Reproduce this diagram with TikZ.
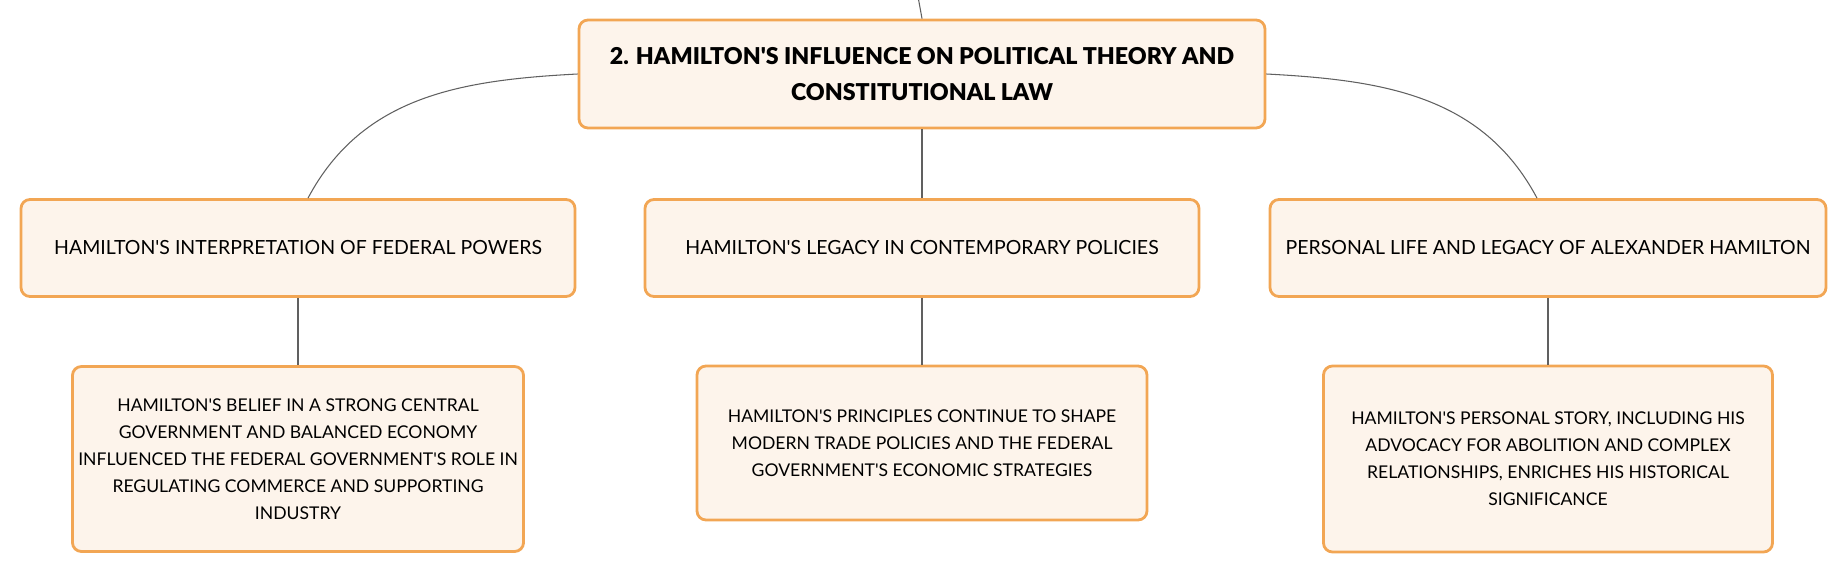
\documentclass[tikz,border=0pt]{standalone}
\usepackage{fontspec}
\setmainfont{Lato}[Ligatures=TeXOff,BoldFont={Lato Black}]
\usetikzlibrary{positioning}

\tikzstyle{block} = [draw, rectangle, rounded corners=0.18cm, line width=1.6pt, align=center]
\tikzstyle{link} = [draw, line width=0.6pt]

\begin{document}
\begin{tikzpicture} [auto, node distance=2cm]

\definecolor{edgeO}{HTML}{F2A654}
\definecolor{fillO}{HTML}{FDF4EB}
\definecolor{lineG}{HTML}{606060}

\def\colB{edgeO};
\def\fillB{fillO};

\useasboundingbox (0,0) rectangle (36.88,-11.46);

\node at (18.44,-1.48)[block,
               draw=\colB,fill=\fillB,
               minimum width=13.72cm,minimum height=2.16cm,
               font=\fontsize{13.2}{20.8}\selectfont\bfseries]
               (T) {2. HAMILTON'S INFLUENCE ON POLITICAL THEORY AND\\CONSTITUTIONAL LAW};

\node[block,below of=T,
      draw=\colB,fill=\fillB,node distance=3.48cm,
      minimum width=11.08cm,minimum height=1.94cm,
      font=\fontsize{11.1}{15.3}\selectfont]
      (M) {HAMILTON'S LEGACY IN CONTEMPORARY POLICIES};

\node[block,left of=M,
      draw=\colB,fill=\fillB,node distance=12.48cm,
      minimum width=11.08cm,minimum height=1.94cm,
      font=\fontsize{11.1}{15.3}\selectfont]
      (L) {HAMILTON'S INTERPRETATION OF FEDERAL POWERS};

\node[block,right of=M,
      draw=\colB,fill=\fillB,node distance=12.52cm,
      minimum width=11.12cm,minimum height=1.94cm,
      font=\fontsize{11.1}{15.3}\selectfont]
      (R) {PERSONAL LIFE AND LEGACY OF ALEXANDER HAMILTON};

\node[block,below of=L,
      draw=\colB,fill=\fillB,node distance=4.22cm,
      minimum width=9cm,minimum height=3.7cm,
      font=\fontsize{10}{15.3}\selectfont]
      (LB) {HAMILTON'S BELIEF IN A STRONG CENTRAL\\GOVERNMENT AND BALANCED ECONOMY\\INFLUENCED THE FEDERAL GOVERNMENT'S ROLE IN\\REGULATING COMMERCE AND SUPPORTING\\INDUSTRY};

\node[block,below of=M,
      draw=\colB,fill=\fillB,node distance=3.9cm,
      minimum width=9cm,minimum height=3.08cm,
      font=\fontsize{10}{15.3}\selectfont]
      (MB) {HAMILTON'S PRINCIPLES CONTINUE TO SHAPE\\MODERN TRADE POLICIES AND THE FEDERAL\\GOVERNMENT'S ECONOMIC STRATEGIES};

\node[block,below of=R,
      draw=\colB,fill=\fillB,node distance=4.22cm,
      minimum width=8.98cm,minimum height=3.72cm,
      font=\fontsize{10}{15.3}\selectfont]
      (RB) {HAMILTON'S PERSONAL STORY, INCLUDING HIS\\ADVOCACY FOR ABOLITION AND COMPLEX\\RELATIONSHIPS, ENRICHES HIS HISTORICAL\\SIGNIFICANCE};

% link from the parent above the picture
\coordinate (P) at (18.30,0.4);
\draw[link,lineG] (P) -- (T.north);

\draw[link,lineG]
      (T.west) to[out=183,in=62] ([xshift=0.2cm]L.north);
\draw[link,lineG]
      (T.south) -- (M.north);
\draw[link,lineG]
      (T.east) to[out=-3,in=118] ([xshift=-0.22cm]R.north);

\draw[link,lineG] (L.south) -- (LB.north);
\draw[link,lineG] (M.south) -- (MB.north);
\draw[link,lineG] (R.south) -- (RB.north);

\end{tikzpicture}
\end{document}
